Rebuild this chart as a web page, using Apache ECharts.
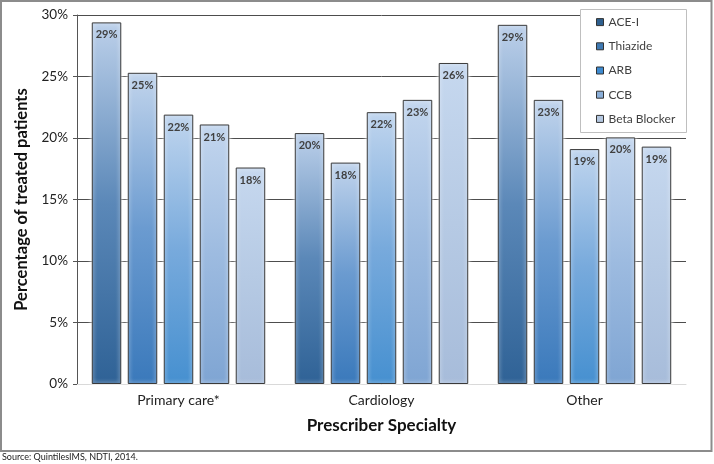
<!DOCTYPE html>
<html>
<head>
<meta charset="utf-8">
<script src="https://cdn.jsdelivr.net/npm/echarts@6/dist/echarts.min.js"></script>
<style>
html,body{margin:0;padding:0;background:#fff;}
#c{width:714px;height:464px;}
</style>
</head>
<body>
<div id="c"></div>
<script>
const categories = ['Primary care*', 'Cardiology', 'Other'];
const seriesNames = ['ACE-I', 'Thiazide', 'ARB', 'CCB', 'Beta Blocker'];
const aceI = [29.4, 20.4, 29.2];
const thiazide = [25.3, 18.0, 23.1];
const arb = [21.9, 22.1, 19.1];
const ccb = [21.1, 23.1, 20.05];
const betaBlocker = [17.6, 26.1, 19.3];
const yMin = 0, yMax = 30, yStep = 5;

const FONT = 'Lato';
const bottomColors = ['#2f6296', '#3a79bb', '#4690d0', '#7fa5d3', '#a7bcda'];
const midColors = ['#5b88b8', '#6b9bd0', '#78aadc', '#9dbbe0', '#b6cae4'];
const topColors = ['#bcd0ea', '#c1d4ec', '#c0d5ee', '#c3d6ee', '#c6d8ef'];
const legendColors = ['#2e5f8e', '#3f79b2', '#3d8ad0', '#8aaed8', '#b4c7e0'];
const allData = [aceI, thiazide, arb, ccb, betaBlocker];

function grad(i) {
  return {
    type: 'linear', x: 0, y: 0, x2: 0, y2: 1,
    colorStops: [
      {offset: 0, color: topColors[i]},
      {offset: 0.5, color: midColors[i]},
      {offset: 1, color: bottomColors[i]}
    ]
  };
}

const series = seriesNames.map((name, i) => ({
  name: name,
  type: 'bar',
  data: allData[i],
  barWidth: 29.5,
  barGap: '22%',
  itemStyle: {
    color: grad(i),
    borderColor: '#3a3a3a',
    borderWidth: 1,
    shadowColor: '#ffffff',
    shadowBlur: 4
  },
  label: {
    show: true,
    position: 'insideTop',
    distance: 7,
    formatter: p => Math.round(p.value) + '%',
    fontFamily: FONT,
    fontWeight: 'bold',
    fontSize: 11,
    color: '#404040'
  }
}));

const chart = echarts.init(document.getElementById('c'));
chart.setOption({
  animation: false,
  backgroundColor: '#ffffff',
  textStyle: {fontFamily: FONT},
  grid: {left: 77, right: 28, top: 15, bottom: 80, containLabel: false},
  legend: {
    orient: 'vertical',
    left: 580,
    top: 9,
    padding: [7, 5, 7, 16],
    itemWidth: 7,
    itemHeight: 7,
    itemGap: 12,
    itemTextGap: 4,
    icon: 'rect',
    z: 10,
    textStyle: {fontFamily: FONT, fontSize: 12, color: '#404040', lineHeight: 12.2},
    data: seriesNames.map((n, i) => ({
      name: n,
      itemStyle: {color: legendColors[i], borderColor: '#333', borderWidth: 1, shadowBlur: 0}
    }))
  },
  graphic: [
    {
      type: 'rect', z: 5,
      shape: {x: 580.5, y: 9.5, width: 106, height: 123},
      style: {fill: '#ffffff', stroke: '#bfbfbf', lineWidth: 1}
    },
    {
      type: 'rect', z: 1, silent: true,
      shape: {x: 1, y: 1, width: 710.5, height: 450},
      style: {fill: 'none', stroke: '#8c8c8c', lineWidth: 2}
    },
    {
      type: 'text', left: 2, top: 453,
      style: {text: 'Source: QuintilesIMS, NDTI, 2014.', fontFamily: FONT, fontSize: 9, fill: '#222'}
    }
  ],
  xAxis: {
    type: 'category',
    data: categories,
    name: 'Prescriber Specialty',
    nameLocation: 'middle',
    nameGap: 33,
    nameTextStyle: {fontFamily: FONT, fontWeight: 'bold', fontSize: 17, color: '#111'},
    axisLine: {show: true, lineStyle: {color: '#d9d9d9', width: 1}},
    axisTick: {show: false},
    axisLabel: {fontFamily: FONT, fontSize: 14, color: '#222', margin: 9}
  },
  yAxis: {
    type: 'value',
    min: yMin, max: yMax, interval: yStep,
    name: 'Percentage of treated patients',
    nameLocation: 'middle',
    nameGap: 47,
    nameTextStyle: {fontFamily: FONT, fontWeight: 'bold', fontSize: 16.5, color: '#111'},
    axisLine: {show: true, lineStyle: {color: '#555', width: 1}},
    axisTick: {show: true, inside: false, length: 4, lineStyle: {color: '#555'}},
    axisLabel: {fontFamily: FONT, fontSize: 13.5, color: '#222', margin: 9, formatter: v => v + '%'},
    splitLine: {show: true, lineStyle: {color: '#4d4d4d', width: 1}}
  },
  series: series
});
</script>
</body>
</html>
